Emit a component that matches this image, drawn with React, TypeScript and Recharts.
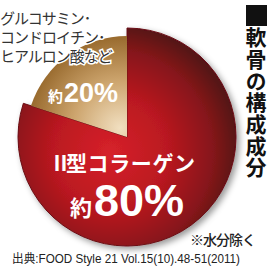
import { PieChart, Pie, Cell } from "recharts";

// values
const categories = ["グルコサミン・コンドロイチン・ヒアルロン酸など", "Ⅱ型コラーゲン"];
const shares = [20, 80];
const minorLines = ["グルコサミン･", "コンドロイチン･", "ヒアルロン酸など"];
const majorName = ["Ⅱ", "型コラーゲン"];
const approx = "約";
const title = "■軟骨の構成成分";
const note = "※水分除く";
const source = "出典:FOOD Style 21 Vol.15(10).48-51(2011)";

const pieData = categories.map((name, i) => ({ name, value: shares[i] }));

const CJK = '"Noto Sans CJK JP", "Noto Sans", sans-serif';
const LATIN = '"Liberation Sans", Arial, "Noto Sans CJK JP", sans-serif';

const App = () => {
  return (
    <div style={{ position: "absolute", left: 0, top: 0, width: 274, height: 267, background: "#fff" }}>
      <svg width={0} height={0} style={{ position: "absolute" }}>
        <defs>
          <radialGradient id="redGrad" gradientUnits="userSpaceOnUse" cx={110} cy={152} r={128}>
            <stop offset="0" stopColor="#d6212a" />
            <stop offset="0.45" stopColor="#ba1920" />
            <stop offset="0.8" stopColor="#86141a" />
            <stop offset="1" stopColor="#561214" />
          </radialGradient>
          <radialGradient id="goldGrad" gradientUnits="userSpaceOnUse" cx={120} cy={128} r={104}>
            <stop offset="0" stopColor="#f1dfc0" />
            <stop offset="0.45" stopColor="#cda56e" />
            <stop offset="1" stopColor="#8a5a1c" />
          </radialGradient>
          <filter id="shadow" x="-20%" y="-20%" width="140%" height="140%">
            <feDropShadow dx={3} dy={3} stdDeviation={3} floodColor="#000" floodOpacity={0.4} />
          </filter>
        </defs>
      </svg>
      <PieChart width={274} height={267} margin={{ top: 0, right: 0, bottom: 0, left: 0 }}>
        <Pie
          data={pieData}
          dataKey="value"
          cx={127}
          cy={137}
          outerRadius={109}
          startAngle={90}
          endAngle={450}
          isAnimationActive={false}
        >
          <Cell fill="none" stroke="none" />
          <Cell fill="url(#redGrad)" stroke="#6a1014" strokeWidth={1} filter="url(#shadow)" />
        </Pie>
        <Pie
          data={pieData}
          dataKey="value"
          cx={127}
          cy={137}
          outerRadius={101}
          startAngle={90}
          endAngle={450}
          isAnimationActive={false}
        >
          <Cell fill="url(#goldGrad)" stroke="none" />
          <Cell fill="none" stroke="none" />
        </Pie>
      </PieChart>
      <svg width={274} height={267} style={{ position: "absolute", left: 0, top: 0, pointerEvents: "none" }}>
        {minorLines.map((line, i) => (
          <text
            key={line}
            x={0}
            y={24 + i * 19}
            fontFamily={CJK}
            fontSize={15}
            letterSpacing={-1}
            fill="#333"
            stroke="#fff"
            strokeWidth={3}
            paintOrder="stroke"
          >
            {line}
          </text>
        ))}
        <text x={48} y={102} fill="#fff" fontFamily={CJK} fontWeight="bold" fontSize={15}>
          {approx}
        </text>
        <text x={64} y={102} fill="#fff" fontFamily={LATIN} fontWeight="bold" fontSize={27}>
          {`${shares[0]}%`}
        </text>
        <text x={50} y={171} fill="#fff" fontFamily={CJK} fontWeight="bold" fontSize={21} letterSpacing={0.6}>
          <tspan letterSpacing={-5}>{majorName[0]}</tspan>
          <tspan>{majorName[1]}</tspan>
        </text>
        <text x={70} y={216} fill="#fff" fontFamily={CJK} fontWeight="bold" fontSize={22}>
          {approx}
        </text>
        <text x={94} y={216} fill="#fff" fontFamily={LATIN} fontWeight="bold" fontSize={45}>
          {`${shares[1]}%`}
        </text>
        <rect x={246} y={5} width={21} height={21} fill="#111" />
        <text
          x={256}
          y={5}
          writingMode="vertical-rl"
          fontFamily={CJK}
          fontWeight="bold"
          fontSize={21}
          letterSpacing={0.7}
          fill="#111"
        >
          {title}
        </text>
        <text x={190} y={245} fontFamily={CJK} fontWeight={500} fontSize={14} letterSpacing={-1} fill="#222">
          {note}
        </text>
        <text x={12} y={263} fontFamily={LATIN} fontSize={12} fill="#222" textLength={228} lengthAdjust="spacingAndGlyphs">
          {source}
        </text>
      </svg>
    </div>
  );
};

export default App;
